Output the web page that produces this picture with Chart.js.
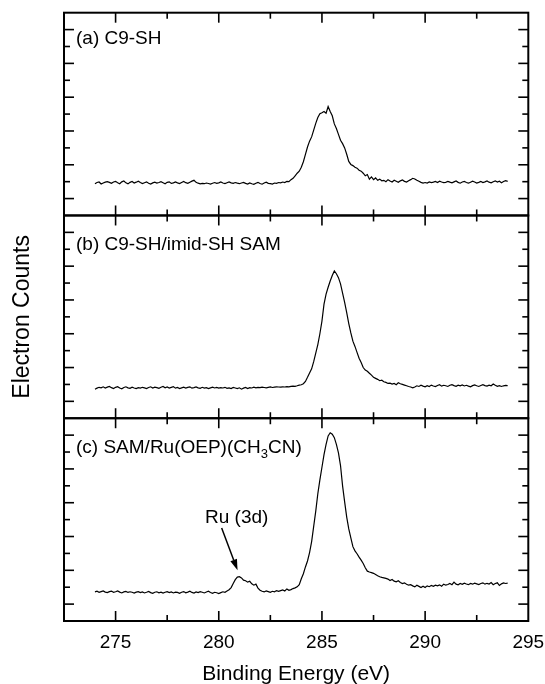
<!DOCTYPE html>
<html>
<head>
<meta charset="utf-8">
<title>C 1s XPS spectra</title>
<script src="https://cdn.jsdelivr.net/npm/chart.js"></script>
<style>
  body { margin: 0; background: #fff; }
  canvas { display: block; }
</style>
</head>
<body>
<canvas id="xps" width="545" height="684"></canvas>
<script>
// binding energy grid (eV)
const energies = [
  274.0, 274.1, 274.2, 274.3, 274.4, 274.5, 274.6, 274.7, 274.8, 274.9,
  275.0, 275.1, 275.2, 275.3, 275.4, 275.5, 275.6, 275.7, 275.8, 275.9,
  276.0, 276.1, 276.2, 276.3, 276.4, 276.5, 276.6, 276.7, 276.8, 276.9,
  277.0, 277.1, 277.2, 277.3, 277.4, 277.5, 277.6, 277.7, 277.8, 277.9,
  278.0, 278.1, 278.2, 278.3, 278.4, 278.5, 278.6, 278.7, 278.8, 278.9,
  279.0, 279.1, 279.2, 279.3, 279.4, 279.5, 279.6, 279.7, 279.8, 279.9,
  280.0, 280.1, 280.2, 280.3, 280.4, 280.5, 280.6, 280.7, 280.8, 280.9,
  281.0, 281.1, 281.2, 281.3, 281.4, 281.5, 281.6, 281.7, 281.8, 281.9,
  282.0, 282.1, 282.2, 282.3, 282.4, 282.5, 282.6, 282.7, 282.8, 282.9,
  283.0, 283.1, 283.2, 283.3, 283.4, 283.5, 283.6, 283.7, 283.8, 283.9,
  284.0, 284.1, 284.2, 284.3, 284.4, 284.5, 284.6, 284.7, 284.8, 284.9,
  285.0, 285.1, 285.2, 285.3, 285.4, 285.5, 285.6, 285.7, 285.8, 285.9,
  286.0, 286.1, 286.2, 286.3, 286.4, 286.5, 286.6, 286.7, 286.8, 286.9,
  287.0, 287.1, 287.2, 287.3, 287.4, 287.5, 287.6, 287.7, 287.8, 287.9,
  288.0, 288.1, 288.2, 288.3, 288.4, 288.5, 288.6, 288.7, 288.8, 288.9,
  289.0, 289.1, 289.2, 289.3, 289.4, 289.5, 289.6, 289.7, 289.8, 289.9,
  290.0, 290.1, 290.2, 290.3, 290.4, 290.5, 290.6, 290.7, 290.8, 290.9,
  291.0, 291.1, 291.2, 291.3, 291.4, 291.5, 291.6, 291.7, 291.8, 291.9,
  292.0, 292.1, 292.2, 292.3, 292.4, 292.5, 292.6, 292.7, 292.8, 292.9,
  293.0, 293.1, 293.2, 293.3, 293.4, 293.5, 293.6, 293.7, 293.8, 293.9,
  294.0
];

// (a) C9-SH
const countsA = [
  1.88, 1.95, 1.98, 1.86, 1.92, 1.97, 2.00, 1.96, 1.90, 1.98,
  2.02, 1.94, 1.88, 1.99, 2.04, 1.93, 1.87, 1.96, 2.01, 1.92,
  1.97, 2.03, 1.95, 1.89, 1.94, 1.99, 1.91, 1.86, 1.93, 1.97,
  1.92, 1.95, 2.00, 1.94, 1.88, 1.96, 1.99, 1.90, 1.93, 1.98,
  1.93, 1.89, 1.95, 2.01, 1.94, 1.90, 1.97, 2.03, 2.08, 1.96,
  1.91, 1.87, 1.90, 1.88, 1.92, 1.89, 1.86, 1.91, 1.95, 1.90,
  1.93, 1.98, 1.92, 1.89, 1.94, 1.99, 1.93, 1.90, 1.95, 1.91,
  1.88, 1.92, 1.96, 1.90, 1.86, 1.93, 1.88, 1.84, 1.91, 1.96,
  1.89, 1.85, 1.92, 1.97, 1.90, 1.88, 1.86, 1.92, 1.90, 1.95,
  1.93, 1.98, 1.95, 2.02, 2.00, 2.12, 2.20, 2.35, 2.50, 2.62,
  2.85, 3.18, 3.62, 4.05, 4.40, 4.65, 5.05, 5.45, 5.80, 6.02,
  6.08, 6.15, 6.05, 6.45, 6.15, 5.90, 5.42, 5.15, 4.80, 4.45,
  4.25, 4.00, 3.62, 3.20, 3.02, 2.95, 2.85, 2.80, 2.68, 2.62,
  2.50, 2.35, 2.42, 2.15, 2.28, 2.12, 2.22, 2.08, 2.15, 2.05,
  2.08, 2.00, 2.12, 2.04, 1.98, 2.08, 2.02, 1.96, 2.05, 2.10,
  2.02, 1.98, 2.06, 2.12, 2.20, 2.16, 2.08, 2.02, 1.96, 1.92,
  1.95, 1.92, 1.98, 1.94, 1.97, 2.01, 1.95, 2.03, 1.98, 1.94,
  1.96, 2.02, 1.97, 1.93, 1.99, 2.04, 1.96, 1.91, 1.98, 2.02,
  1.95, 1.91, 1.97, 2.03, 1.98, 1.92, 1.96, 2.01, 1.95, 1.99,
  2.04, 1.97, 1.93, 2.00, 2.05, 1.98, 2.03, 1.94, 2.01, 2.06,
  2.02
];

// (b) C9-SH/imid-SH SAM
const countsB = [
  1.72, 1.78, 1.83, 1.80, 1.86, 1.79, 1.84, 1.88, 1.81, 1.76,
  1.83, 1.87, 1.79, 1.74, 1.82, 1.86, 1.80, 1.77, 1.84, 1.79,
  1.75, 1.81, 1.78, 1.83, 1.80, 1.76, 1.82, 1.86, 1.79, 1.84,
  1.81, 1.77, 1.83, 1.88, 1.80, 1.85, 1.79, 1.83, 1.87, 1.78,
  1.82, 1.76, 1.80, 1.84, 1.79, 1.83, 1.86, 1.78, 1.81, 1.85,
  1.80, 1.77, 1.83, 1.78, 1.81, 1.76, 1.80, 1.84, 1.79, 1.82,
  1.78, 1.81, 1.79, 1.83, 1.77, 1.80, 1.76, 1.82, 1.79, 1.75,
  1.80, 1.72, 1.78, 1.82, 1.76, 1.81, 1.79, 1.84, 1.80, 1.83,
  1.81, 1.84, 1.82, 1.80, 1.83, 1.85, 1.82, 1.84, 1.86, 1.85,
  1.84, 1.86, 1.85, 1.87, 1.86, 1.88, 1.90, 1.89, 1.92, 1.96,
  1.98, 2.04, 2.18, 2.42, 2.68, 2.92, 3.35, 3.85, 4.36, 5.00,
  5.75, 6.75, 7.35, 7.75, 8.12, 8.45, 8.72, 8.55, 8.32, 7.95,
  7.40, 6.85, 6.25, 5.60, 5.05, 4.56, 4.25, 3.90, 3.55, 3.30,
  3.00, 2.85, 2.78, 2.66, 2.55, 2.42, 2.36, 2.30, 2.22, 2.25,
  2.16, 2.12, 2.06, 2.08, 2.02, 2.06, 1.98, 2.10, 2.04, 2.00,
  1.96, 1.92, 1.88, 1.85, 1.80, 1.85, 1.92, 1.88, 1.95, 1.90,
  1.86, 1.93, 1.88, 1.96, 1.91, 1.87, 1.94, 1.98, 1.90, 1.95,
  1.92, 1.88, 1.95, 1.99, 1.93, 1.89, 1.96, 1.92, 1.97, 1.91,
  1.95, 1.90, 1.86, 1.93, 1.97, 1.92, 1.88, 1.94, 1.99, 1.93,
  1.90, 1.96, 1.92, 2.03, 1.95, 1.89, 1.93, 1.88, 1.92, 1.94,
  1.93
];

// (c) SAM/Ru(OEP)(CH3CN)
const countsC = [
  1.72, 1.76, 1.70, 1.74, 1.78, 1.71, 1.68, 1.74, 1.77, 1.70,
  1.73, 1.78, 1.71, 1.66, 1.72, 1.75, 1.69, 1.73, 1.70, 1.65,
  1.71, 1.74, 1.68, 1.72, 1.66, 1.70, 1.75, 1.68, 1.64, 1.70,
  1.73, 1.67, 1.71, 1.65, 1.70, 1.74, 1.68, 1.72, 1.66, 1.71,
  1.69, 1.64, 1.70, 1.74, 1.67, 1.71, 1.76, 1.69, 1.65, 1.72,
  1.68, 1.74, 1.70, 1.66, 1.72, 1.76, 1.69, 1.64, 1.70, 1.67,
  1.62, 1.68, 1.73, 1.70, 1.78, 1.85, 1.98, 2.22, 2.45, 2.60,
  2.62, 2.55, 2.42, 2.38, 2.30, 2.35, 2.20, 2.12, 2.18, 1.95,
  1.82, 1.76, 1.72, 1.78, 1.74, 1.70, 1.76, 1.73, 1.80, 1.76,
  1.80, 1.84, 1.78, 1.90, 1.82, 1.86, 1.92, 1.96, 2.02, 2.15,
  2.50, 2.80, 3.20, 3.55, 4.05, 4.70, 5.60, 6.50, 7.53, 8.35,
  9.10, 9.85, 10.45, 10.95, 11.14, 11.05, 10.85, 10.45, 9.95, 9.20,
  8.00, 7.05, 6.15, 5.45, 4.92, 4.40, 4.15, 3.98, 3.78, 3.60,
  3.40, 3.15, 2.95, 2.90, 2.86, 2.82, 2.75, 2.68, 2.62, 2.58,
  2.55, 2.52, 2.48, 2.40, 2.46, 2.36, 2.32, 2.38, 2.28, 2.22,
  2.26, 2.18, 2.12, 2.15, 2.08, 2.02, 2.12, 2.05, 1.98, 2.06,
  1.98, 2.08, 2.03, 2.10, 2.05, 2.12, 2.08, 2.14, 2.06, 2.18,
  2.12, 2.16, 2.22, 2.15, 2.30, 2.18, 2.14, 2.22, 2.17, 2.24,
  2.19, 2.15, 2.22, 2.18, 2.24, 2.20, 2.16, 2.22, 2.26, 2.18,
  2.23, 2.19, 2.28, 2.15, 2.22, 2.26, 2.10, 2.20, 2.25, 2.22,
  2.24
];

const panelAxes = ['ya', 'yb', 'yc'];
const panelLabels = ['(a) C9-SH', '(b) C9-SH/imid-SH SAM', '(c) SAM/Ru(OEP)(CH'];
const xTicks = [275, 277.5, 280, 282.5, 285, 287.5, 290, 292.5];
const yTicks = [1, 2, 3, 4, 5, 6, 7, 8, 9, 10, 11];
// Ru (3d) note: label point, arrow tail, arrow tip (eV, counts on panel c)
const ruNote = { text: 'Ru (3d)', label: [280.87, 5.79], tail: [280.14, 5.5], tip: [280.91, 3.0] };

const FONT = '"Liberation Sans", Arial, Helvetica, sans-serif';

function series(values) {
  return values.map((v, i) => ({ x: energies[i], y: v }));
}

function line(ctx, x1, y1, x2, y2) {
  ctx.beginPath();
  ctx.moveTo(x1, y1);
  ctx.lineTo(x2, y2);
  ctx.stroke();
}

const panelFrames = {
  id: 'panelFrames',
  afterDatasetsDraw(chart) {
    const { ctx, chartArea, scales } = chart;
    const xs = scales.x;
    const left = chartArea.left, right = chartArea.right;
    ctx.save();
    ctx.strokeStyle = '#000';
    ctx.fillStyle = '#000';
    panelAxes.forEach((id, i) => {
      const s = scales[id];
      ctx.lineWidth = 1.6;
      yTicks.forEach(v => {
        const py = s.getPixelForValue(v);
        const len = v % 2 ? 10 : 6;
        line(ctx, left, py, left + len, py);
        line(ctx, right, py, right - len, py);
      });
      xTicks.forEach(t => {
        const px = xs.getPixelForValue(t);
        const len = t % 5 === 0 ? 10 : 6;
        line(ctx, px, s.top, px, s.top + len);
        line(ctx, px, s.bottom, px, s.bottom - len);
      });
      ctx.lineWidth = 2;
      ctx.strokeRect(left, s.top, right - left, s.bottom - s.top);

      ctx.font = '19px ' + FONT;
      ctx.textAlign = 'left';
      ctx.textBaseline = 'alphabetic';
      const tx = left + 12;
      const ty = s.top + (i === 0 ? 31 : 35);
      ctx.fillText(panelLabels[i], tx, ty);
      if (i === 2) {
        let w = ctx.measureText(panelLabels[i]).width;
        ctx.font = '13px ' + FONT;
        ctx.fillText('3', tx + w, ty + 5);
        w += ctx.measureText('3').width;
        ctx.font = '19px ' + FONT;
        ctx.fillText('CN)', tx + w, ty);
      }
    });

    // Ru (3d) annotation
    const yc = scales.yc;
    ctx.font = '19px ' + FONT;
    ctx.textAlign = 'center';
    ctx.fillText(ruNote.text, xs.getPixelForValue(ruNote.label[0]), yc.getPixelForValue(ruNote.label[1]));
    const x1 = xs.getPixelForValue(ruNote.tail[0]), y1 = yc.getPixelForValue(ruNote.tail[1]);
    const x2 = xs.getPixelForValue(ruNote.tip[0]), y2 = yc.getPixelForValue(ruNote.tip[1]);
    const ang = Math.atan2(y2 - y1, x2 - x1);
    const head = 11, half = 3.5;
    ctx.lineWidth = 1.5;
    line(ctx, x1, y1, x2 - head * Math.cos(ang), y2 - head * Math.sin(ang));
    ctx.beginPath();
    ctx.moveTo(x2, y2);
    ctx.lineTo(x2 - head * Math.cos(ang) + half * Math.sin(ang), y2 - head * Math.sin(ang) - half * Math.cos(ang));
    ctx.lineTo(x2 - head * Math.cos(ang) - half * Math.sin(ang), y2 - head * Math.sin(ang) + half * Math.cos(ang));
    ctx.closePath();
    ctx.fill();

    // shared y title
    ctx.translate(23, (chartArea.top + chartArea.bottom) / 2);
    ctx.rotate(-Math.PI / 2);
    ctx.font = '23px ' + FONT;
    ctx.textAlign = 'center';
    ctx.textBaseline = 'middle';
    ctx.fillText('Electron Counts', 0, 0);
    ctx.restore();
  }
};

function panelScale() {
  return {
    type: 'linear',
    position: 'left',
    stack: 'panels',
    stackWeight: 1,
    offset: false,
    min: 0,
    max: 12,
    ticks: { display: false },
    grid: { display: false, drawTicks: false },
    border: { display: false },
    afterFit(scale) { scale.width = 0; }
  };
}

new Chart(document.getElementById('xps'), {
  type: 'line',
  data: {
    datasets: [
      { label: 'a', data: series(countsA), yAxisID: 'ya' },
      { label: 'b', data: series(countsB), yAxisID: 'yb' },
      { label: 'c', data: series(countsC), yAxisID: 'yc' }
    ].map(d => Object.assign(d, {
      borderColor: '#000',
      borderWidth: 1.2,
      pointRadius: 0,
      tension: 0,
      fill: false
    }))
  },
  options: {
    responsive: false,
    animation: false,
    devicePixelRatio: 1,
    layout: { padding: { left: 64, right: 16.7, top: 12.7, bottom: 0 } },
    plugins: { legend: { display: false }, tooltip: { enabled: false } },
    scales: {
      x: {
        type: 'linear',
        min: 272.5,
        max: 295,
        ticks: {
          stepSize: 2.5,
          autoSkip: false,
          maxRotation: 0,
          padding: 10,
          color: '#000',
          font: { family: FONT, size: 19 },
          callback: v => (v % 5 === 0 ? String(v) : '')
        },
        grid: { display: false, drawTicks: false },
        border: { display: false },
        title: {
          display: true,
          text: 'Binding Energy (eV)',
          color: '#000',
          font: { family: FONT, size: 21 },
          padding: { top: -2, bottom: -3 }
        },
        afterFit(scale) { scale.paddingLeft = 0; scale.paddingRight = 0; }
      },
      // stacked panels are laid out bottom-up, so (c) comes first
      yc: panelScale(),
      yb: panelScale(),
      ya: panelScale()
    }
  },
  plugins: [panelFrames]
});
</script>
</body>
</html>
